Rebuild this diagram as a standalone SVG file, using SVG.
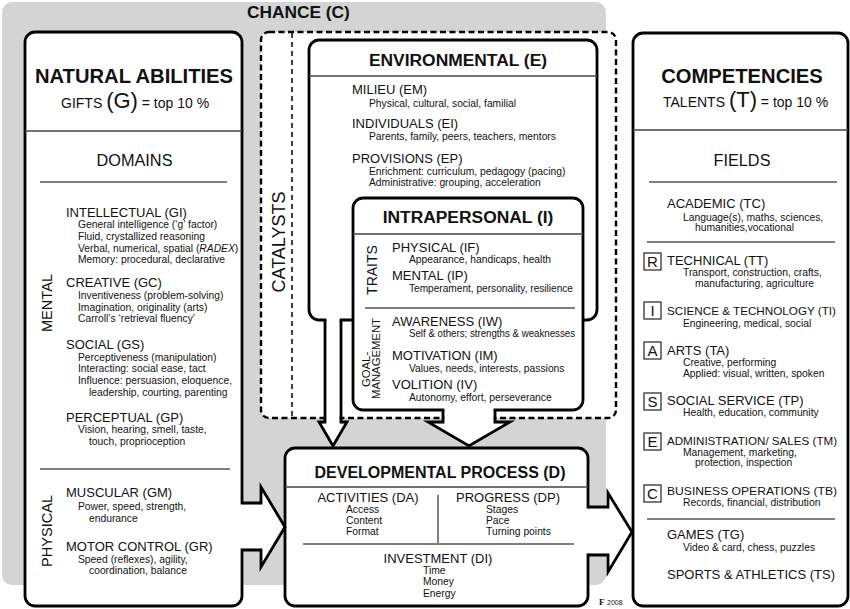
<svg xmlns="http://www.w3.org/2000/svg" width="850" height="609" viewBox="0 0 850 609">
<style>
text { font-family: "Liberation Sans", Arial, Helvetica, sans-serif; fill: #111; }
.box { fill: #fff; stroke: #000; stroke-width: 2.8; }
.sep { stroke: #555; stroke-width: 1.5; fill: none; }
.title { font-size: 20.2px; font-weight: bold; }
.ttl2 { font-size: 17.4px; font-weight: bold; }
.hd { font-size: 13px; }
.hdn { font-size: 11.8px; }
.sb { font-size: 10.3px; }
.mid { text-anchor: middle; }
.vert { font-size: 14.6px; text-anchor: middle; }
.fill { fill: #fff; stroke: none; }
.aline { fill: none; stroke: #000; stroke-width: 2.8; stroke-linejoin: miter; }
.lbox { fill: #fff; stroke: #222; stroke-width: 1.2; }
.lt { font-size: 15px; text-anchor: middle; }
</style>

<!-- CHANCE background -->
<g id="chance">
  <rect x="2" y="2" width="604" height="583" rx="10" fill="#d4d4d4"/>
  <text x="247" y="18" style="font-size:17.3px;font-weight:bold">CHANCE (C)</text>
</g>

<!-- CATALYSTS dashed box -->
<g id="catalysts">
  <rect x="261" y="32" width="355" height="386" rx="8" fill="#fff" stroke="#000" stroke-width="2.4" stroke-dasharray="6 3.5"/>
  <line x1="292" y1="33" x2="292" y2="417" stroke="#000" stroke-width="1.5" stroke-dasharray="5 4"/>
  <text transform="translate(285,242) rotate(-90)" class="mid" style="font-size:18px">CATALYSTS</text>
</g>

<!-- NATURAL ABILITIES -->
<g id="natural-abilities">
  <rect class="box" x="25" y="32" width="217" height="574" rx="10"/>
  <text x="134" y="83" class="title mid">NATURAL ABILITIES</text>
  <text x="61" y="108" style="font-size:14px">GIFTS <tspan style="font-size:22px">(G)</tspan> = top 10 %</text>
  <line class="sep" x1="25" y1="131" x2="242" y2="131" style="stroke:#444"/>
  <text x="134.5" y="166" class="mid" style="font-size:16.3px">DOMAINS</text>
  <line class="sep" x1="40" y1="182" x2="227" y2="182"/>
  <text transform="translate(52,303) rotate(-90)" class="vert">MENTAL</text>
  <text x="66" y="217" class="hd">INTELLECTUAL (GI)</text>
  <text x="78" y="228" class="sb">General intelligence (‘g’ factor)</text>
  <text x="78" y="240" class="sb">Fluid, crystallized reasoning</text>
  <text x="78" y="252" class="sb">Verbal, numerical, spatial (<tspan font-style="italic">RADEX</tspan>)</text>
  <text x="78" y="263" class="sb">Memory: procedural, declarative</text>
  <text x="66" y="287" class="hd">CREATIVE (GC)</text>
  <text x="78" y="299" class="sb">Inventiveness (problem-solving)</text>
  <text x="78" y="311" class="sb">Imagination, originality (arts)</text>
  <text x="78" y="322" class="sb">Carroll’s ‘retrieval fluency’</text>
  <text x="66" y="349" class="hd">SOCIAL (GS)</text>
  <text x="78" y="361" class="sb">Perceptiveness (manipulation)</text>
  <text x="78" y="372" class="sb">Interacting: social ease, tact</text>
  <text x="78" y="384" class="sb">Influence: persuasion, eloquence,</text>
  <text x="89" y="396" class="sb">leadership, courting, parenting</text>
  <text x="66" y="422" class="hd">PERCEPTUAL (GP)</text>
  <text x="78" y="433" class="sb">Vision, hearing, smell, taste,</text>
  <text x="89" y="445" class="sb">touch, proprioception</text>
  <line class="sep" x1="40" y1="469" x2="230" y2="469"/>
  <text transform="translate(52,531) rotate(-90)" class="vert">PHYSICAL</text>
  <text x="66" y="497" class="hd">MUSCULAR (GM)</text>
  <text x="78" y="510" class="sb">Power, speed, strength,</text>
  <text x="89" y="522" class="sb">endurance</text>
  <text x="66" y="551" class="hd">MOTOR CONTROL (GR)</text>
  <text x="78" y="563" class="sb">Speed (reflexes), agility,</text>
  <text x="89" y="574" class="sb">coordination, balance</text>
</g>

<!-- COMPETENCIES -->
<g id="competencies">
  <rect class="box" x="633" y="33" width="215" height="573" rx="10"/>
  <text x="742" y="83" class="title mid">COMPETENCIES</text>
  <text x="663" y="107" style="font-size:14px">TALENTS <tspan style="font-size:22px">(T)</tspan> = top 10 %</text>
  <line class="sep" x1="633" y1="130" x2="848" y2="130" style="stroke:#444"/>
  <text x="742" y="166" class="mid" style="font-size:16.3px">FIELDS</text>
  <line class="sep" x1="649" y1="182" x2="837" y2="182"/>
  <text x="667" y="208" class="hd">ACADEMIC (TC)</text>
  <text x="683" y="221" class="sb">Language(s), maths, sciences,</text>
  <text x="695" y="231" class="sb">humanities,vocational</text>
  <line class="sep" x1="647" y1="242" x2="835" y2="242"/>
  <rect class="lbox" x="644" y="253" width="17" height="17"/>
  <text x="652.5" y="267" class="lt">R</text>
  <text x="667" y="265" class="hd">TECHNICAL (TT)</text>
  <text x="683" y="276" class="sb">Transport, construction, crafts,</text>
  <text x="695" y="287" class="sb">manufacturing, agriculture</text>
  <rect class="lbox" x="644" y="302" width="17" height="17"/>
  <text x="652.5" y="316" class="lt">I</text>
  <text x="667" y="315" class="hdn" textLength="169" lengthAdjust="spacingAndGlyphs">SCIENCE &amp; TECHNOLOGY (TI)</text>
  <text x="683" y="327" class="sb">Engineering, medical, social</text>
  <rect class="lbox" x="644" y="342" width="17" height="17"/>
  <text x="652.5" y="356" class="lt">A</text>
  <text x="667" y="355" class="hd">ARTS (TA)</text>
  <text x="683" y="366" class="sb">Creative, performing</text>
  <text x="683" y="377" class="sb">Applied: visual, written, spoken</text>
  <rect class="lbox" x="644" y="393" width="17" height="17"/>
  <text x="652.5" y="407" class="lt">S</text>
  <text x="667" y="405" class="hd">SOCIAL SERVICE (TP)</text>
  <text x="683" y="416" class="sb">Health, education, community</text>
  <rect class="lbox" x="644" y="433" width="17" height="17"/>
  <text x="652.5" y="447" class="lt">E</text>
  <text x="667" y="445" class="hdn" textLength="170" lengthAdjust="spacingAndGlyphs">ADMINISTRATION/ SALES (TM)</text>
  <text x="683" y="456" class="sb">Management, marketing,</text>
  <text x="695" y="466" class="sb">protection, inspection</text>
  <rect class="lbox" x="644" y="485" width="17" height="17"/>
  <text x="652.5" y="499" class="lt">C</text>
  <text x="667" y="495" class="hdn" textLength="170" lengthAdjust="spacingAndGlyphs">BUSINESS OPERATIONS (TB)</text>
  <text x="683" y="506" class="sb">Records, financial, distribution</text>
  <line class="sep" x1="647" y1="519" x2="835" y2="519"/>
  <text x="667" y="539" class="hd">GAMES (TG)</text>
  <text x="683" y="551" class="sb">Video &amp; card, chess, puzzles</text>
  <text x="667" y="579" class="hd" textLength="168" lengthAdjust="spacingAndGlyphs">SPORTS &amp; ATHLETICS (TS)</text>
</g>

<!-- ENVIRONMENTAL -->
<g id="environmental">
  <rect class="box" x="309" y="40" width="288" height="280" rx="10"/>
  <text x="458" y="66" class="ttl2 mid">ENVIRONMENTAL (E)</text>
  <line class="sep" x1="309" y1="76" x2="597" y2="76" style="stroke:#444"/>
  <text x="352" y="94" class="hd">MILIEU (EM)</text>
  <text x="369" y="107" class="sb">Physical, cultural, social, familial</text>
  <text x="352" y="128" class="hd">INDIVIDUALS (EI)</text>
  <text x="369" y="140" class="sb">Parents, family, peers, teachers, mentors</text>
  <text x="352" y="163" class="hd">PROVISIONS (EP)</text>
  <text x="369" y="175" class="sb">Enrichment: curriculum, pedagogy (pacing)</text>
  <text x="369" y="186" class="sb">Administrative: grouping, acceleration</text>
</g>

<!-- INTRAPERSONAL -->
<g id="intrapersonal">
  <rect class="box" x="353" y="198" width="230" height="212" rx="10"/>
  <text x="468" y="223" class="ttl2 mid">INTRAPERSONAL (I)</text>
  <line class="sep" x1="353" y1="234" x2="583" y2="234" style="stroke:#444"/>
  <text transform="translate(377,270) rotate(-90)" class="mid" style="font-size:14px">TRAITS</text>
  <line class="sep" x1="365" y1="308" x2="575" y2="308"/>
  <text transform="translate(370,387) rotate(-90)" style="font-size:11.3px">GOAL-</text>
  <text transform="translate(380,399) rotate(-90)" style="font-size:11.3px">MANAGEMENT</text>
  <text x="392" y="252" class="hd">PHYSICAL (IF)</text>
  <text x="409" y="263" class="sb">Appearance, handicaps, health</text>
  <text x="392" y="280" class="hd">MENTAL (IP)</text>
  <text x="409" y="292" class="sb" textLength="164" lengthAdjust="spacingAndGlyphs">Temperament, personality, resilience</text>
  <text x="392" y="326" class="hd">AWARENESS (IW)</text>
  <text x="409" y="337" class="sb" textLength="166" lengthAdjust="spacingAndGlyphs">Self &amp; others; strengths &amp; weaknesses</text>
  <text x="392" y="360" class="hd">MOTIVATION (IM)</text>
  <text x="409" y="372" class="sb">Values, needs, interests, passions</text>
  <text x="392" y="389" class="hd">VOLITION (IV)</text>
  <text x="409" y="401" class="sb">Autonomy, effort, perseverance</text>
</g>

<!-- DEVELOPMENTAL PROCESS -->
<g id="developmental">
  <rect class="box" x="285" y="448" width="303" height="158" rx="10"/>
  <text x="440" y="478" class="mid" style="font-size:16px;font-weight:bold">DEVELOPMENTAL PROCESS (D)</text>
  <line class="sep" x1="285" y1="487" x2="588" y2="487" style="stroke:#444"/>
  <text x="368" y="502" class="hd mid">ACTIVITIES (DA)</text>
  <text x="346" y="513" class="sb">Access</text>
  <text x="346" y="524" class="sb">Content</text>
  <text x="346" y="535" class="sb">Format</text>
  <text x="508" y="502" class="hd mid">PROGRESS (DP)</text>
  <text x="486" y="513" class="sb">Stages</text>
  <text x="486" y="524" class="sb">Pace</text>
  <text x="486" y="535" class="sb">Turning points</text>
  <line class="sep" x1="438" y1="495" x2="438" y2="543"/>
  <line class="sep" x1="303" y1="544" x2="574" y2="544"/>
  <text x="438" y="563" class="hd mid">INVESTMENT (DI)</text>
  <text x="423" y="574" class="sb">Time</text>
  <text x="423" y="585" class="sb">Money</text>
  <text x="423" y="597" class="sb">Energy</text>
</g>

<!-- connectors -->
<g id="connectors">
  <!-- natural abilities -> developmental -->
  <path class="fill" d="M238,504.5 L262,504.5 L262,490 L283,527 L262,564 L262,548.5 L238,548.5 Z"/>
  <path class="aline" d="M243,503 L261,503 L261,487 L285,527 L261,567 L261,550 L243,550"/>
  <!-- developmental -> competencies -->
  <path class="fill" d="M584,508.5 L609,508.5 L609,496 L630,532 L609,569 L609,553.5 L584,553.5 Z"/>
  <path class="aline" d="M588,507 L608,507 L608,493 L632,532 L608,572 L608,555 L588,555"/>
  <!-- environmental -> developmental -->
  <path class="fill" d="M326.4,314 L339.6,314 L339.6,423.4 L344.5,423.4 L333,443 L321.5,423.4 L326.4,423.4 Z"/>
  <path class="aline" d="M325,320 L325,422 L319,422 L333,446 L347,422 L341,422 L341,320"/>
  <!-- intrapersonal -> developmental -->
  <path class="fill" d="M444.4,404 L493.6,404 L493.6,423.4 L506,423.4 L469,444 L432,423.4 L444.4,423.4 Z"/>
  <path class="aline" d="M443,410 L443,422 L428,422 L469,446 L510,422 L495,422 L495,410"/>
</g>

<g id="copyright">
  <text x="599" y="605" style="font-family:'Liberation Serif',serif;font-size:9px;font-weight:bold">F</text>
  <text x="607" y="605" style="font-size:7px">2008</text>
</g>
</svg>
